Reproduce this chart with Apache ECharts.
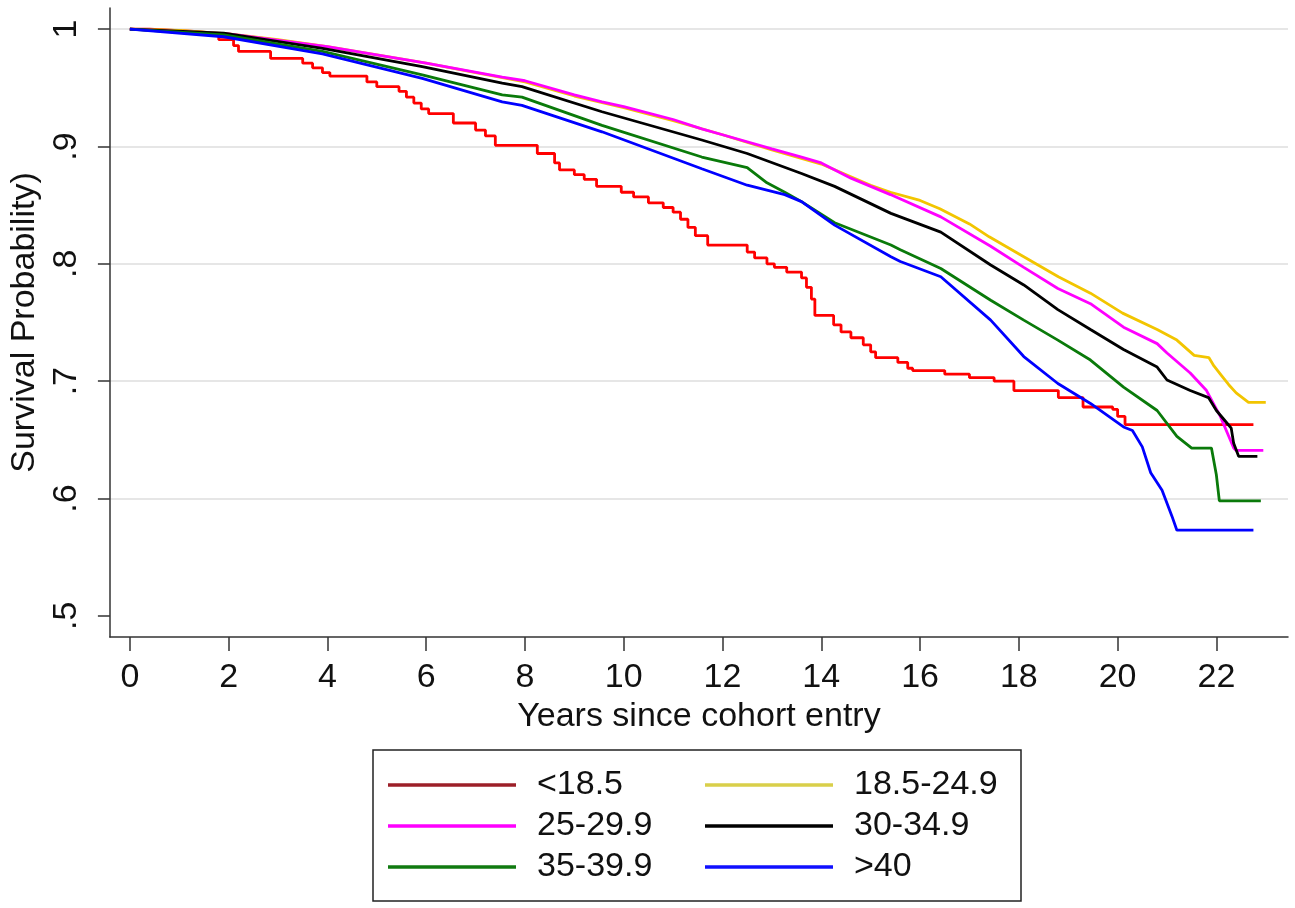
<!DOCTYPE html>
<html>
<head>
<meta charset="utf-8">
<script src="https://cdn.jsdelivr.net/npm/echarts@6/dist/echarts.min.js"></script>
<style>
html,body{margin:0;padding:0;background:#fff;}
#chart{width:1295px;height:908px;}
</style>
</head>
<body>
<div id="chart"></div>
<script>
// ---- data ----
const seriesNames = ['<18.5', '18.5-24.9', '25-29.9', '30-34.9', '35-39.9', '>40'];
const xTickValues = [0, 2, 4, 6, 8, 10, 12, 14, 16, 18, 20, 22];
const yTickValues = [0.5, 0.6, 0.7, 0.8, 0.9, 1];
const yTickLabels = ['.5', '.6', '.7', '.8', '.9', '1'];
const xTitle = 'Years since cohort entry';
const yTitle = 'Survival Probability)';

// [years, survival]
const bmiUnder185 = [[0,1],[0.4,0.999],[0.9,0.998],[1.3,0.997],[1.6,0.995],[1.8,0.991],[2.1,0.986],[2.2,0.981],[2.85,0.975],[3.5,0.971],[3.7,0.967],[3.9,0.963],[4.05,0.960],[4.8,0.955],[5.0,0.951],[5.45,0.947],[5.6,0.942],[5.75,0.937],[5.9,0.932],[6.05,0.928],[6.55,0.920],[7.0,0.914],[7.2,0.909],[7.4,0.901],[8.25,0.894],[8.6,0.886],[8.7,0.880],[9.0,0.876],[9.2,0.872],[9.45,0.866],[9.95,0.861],[10.2,0.857],[10.5,0.852],[10.8,0.848],[11.0,0.844],[11.15,0.838],[11.3,0.831],[11.45,0.824],[11.7,0.816],[12.5,0.810],[12.65,0.805],[12.9,0.800],[13.05,0.797],[13.3,0.793],[13.6,0.788],[13.7,0.780],[13.8,0.770],[13.87,0.756],[14.25,0.748],[14.4,0.742],[14.6,0.737],[14.85,0.731],[15.0,0.725],[15.1,0.720],[15.55,0.716],[15.75,0.711],[15.85,0.709],[16.5,0.706],[17.0,0.703],[17.5,0.700],[17.9,0.692],[18.8,0.686],[19.3,0.678],[19.9,0.676],[20.0,0.670],[20.15,0.663],[22.75,0.663]];
const bmi185to249 = [[0,1],[1,0.999],[2,0.996],[3,0.991],[4,0.985],[5,0.978],[6,0.971],[7,0.963],[8,0.955],[9,0.943],[10,0.933],[11,0.922],[12,0.910],[13,0.897],[14,0.885],[15,0.867],[15.4,0.861],[16,0.854],[16.4,0.847],[17,0.834],[17.4,0.823],[18.1,0.806],[18.8,0.789],[19.45,0.775],[20.1,0.758],[20.8,0.744],[21.2,0.735],[21.55,0.722],[21.85,0.720],[21.95,0.713],[22.1,0.705],[22.25,0.697],[22.4,0.690],[22.65,0.682],[23.0,0.682]];
const bmi25to299 = [[0,1],[2,0.996],[4,0.985],[6,0.971],[7.54,0.959],[8,0.956],[9,0.944],[9.56,0.938],[10,0.934],[11,0.923],[11.58,0.915],[12,0.910],[13,0.898],[13.6,0.891],[14,0.886],[14.6,0.873],[15.4,0.859],[16.42,0.840],[17.43,0.815],[18.1,0.797],[18.79,0.779],[19.45,0.766],[20.12,0.746],[20.8,0.732],[21.0,0.724],[21.47,0.707],[21.8,0.692],[22.08,0.670],[22.25,0.653],[22.35,0.643],[22.4,0.641],[22.95,0.641]];
const bmi30to349 = [[0,1],[1.9,0.9966],[3.9,0.9835],[5.92,0.968],[7.54,0.954],[7.94,0.951],[9.56,0.9296],[11.58,0.9055],[12.5,0.894],[13.6,0.877],[14.27,0.866],[15.41,0.843],[16.42,0.827],[17.43,0.799],[18.1,0.782],[18.79,0.761],[19.45,0.744],[20.12,0.727],[20.8,0.712],[21.0,0.701],[21.47,0.692],[21.84,0.686],[22.0,0.675],[22.2,0.665],[22.3,0.660],[22.35,0.647],[22.45,0.636],[22.83,0.636]];
const bmi35to399 = [[0,1],[1.9,0.995],[3.9,0.981],[5.92,0.961],[7.54,0.944],[7.94,0.942],[9.56,0.918],[11.58,0.891],[12.5,0.882],[12.9,0.869],[13.26,0.861],[13.6,0.853],[14.27,0.835],[15.41,0.816],[15.6,0.812],[16.42,0.796],[17.43,0.769],[18.1,0.752],[18.79,0.735],[19.45,0.718],[20.12,0.695],[20.8,0.675],[21.2,0.653],[21.5,0.643],[21.9,0.643],[22.0,0.620],[22.06,0.598],[22.9,0.598]];
const bmiOver40 = [[0,1],[1.9,0.9935],[3.9,0.979],[5.92,0.958],[7.54,0.938],[7.94,0.935],[9.56,0.9125],[11.58,0.881],[12.5,0.867],[13.26,0.859],[13.6,0.853],[14.27,0.833],[15.41,0.806],[15.6,0.802],[16.42,0.789],[17.43,0.752],[18.1,0.721],[18.79,0.698],[19.45,0.681],[20.12,0.661],[20.3,0.658],[20.5,0.644],[20.67,0.622],[20.9,0.607],[21.1,0.585],[21.2,0.573],[22.75,0.573]];

const seriesData = [bmiUnder185, bmi185to249, bmi25to299, bmi30to349, bmi35to399, bmiOver40];
const seriesColors = ['#ff0000', '#f2c500', '#ff00ff', '#000000', '#0a7a0a', '#0000ff'];
const legendColors = ['#9c1f28', '#d9cf4a', '#ff00ff', '#000000', '#107a10', '#1010ff'];

// ---- chart ----
const FONT = '"Liberation Sans", Arial, sans-serif';
const FS = 34;
const chart = echarts.init(document.getElementById('chart'), null, {renderer: 'canvas'});

const series = seriesNames.map((name, i) => ({
  name: name,
  type: 'line',
  data: seriesData[i],
  symbol: 'none',
  showSymbol: false,
  step: i === 0 ? 'end' : false,
  smooth: false,
  lineStyle: {color: seriesColors[i], width: 2.8},
  itemStyle: {color: seriesColors[i]},
  z: 3 + i,
  animation: false
}));

function legendItems(names) {
  return names.map(n => {
    const i = seriesNames.indexOf(n);
    return {name: n, icon: 'rect', itemStyle: {color: legendColors[i], borderWidth: 0}};
  });
}

const legendCommon = {
  orient: 'vertical',
  top: 768,
  itemWidth: 128,
  itemHeight: 3.5,
  itemGap: 7,
  padding: 0,
  selectedMode: false,
  textStyle: {fontSize: FS, fontFamily: FONT, color: '#111', lineHeight: 34, padding: [0, 0, 0, 16]}
};

const option = {
  backgroundColor: '#fff',
  animation: false,
  grid: {left: 107, right: 7, top: 8, bottom: 271, containLabel: false},
  xAxis: {
    type: 'value',
    min: -0.404,
    max: 23.45,
    name: xTitle,
    nameLocation: 'middle',
    nameGap: 55,
    nameTextStyle: {fontSize: FS, fontFamily: FONT, color: '#111'},
    axisLine: {show: true, onZero: false, lineStyle: {color: '#333', width: 1.5}},
    axisTick: {show: true, length: 14, customValues: xTickValues, lineStyle: {color: '#333', width: 1.5}},
    axisLabel: {customValues: xTickValues, margin: 24, fontSize: FS, fontFamily: FONT, color: '#111'},
    splitLine: {show: false}
  },
  yAxis: {
    type: 'value',
    min: 0.482,
    max: 1.018,
    name: yTitle,
    nameLocation: 'middle',
    nameGap: 62,
    nameRotate: 90,
    nameTextStyle: {fontSize: FS, fontFamily: FONT, color: '#111'},
    axisLine: {show: true, onZero: false, lineStyle: {color: '#333', width: 1.5}},
    axisTick: {show: true, length: 12, customValues: yTickValues, lineStyle: {color: '#333', width: 1.5}},
    axisLabel: {
      customValues: yTickValues,
      rotate: 90,
      margin: 26,
      fontSize: FS,
      fontFamily: FONT,
      color: '#111',
      formatter: v => {
        const k = yTickValues.findIndex(t => Math.abs(t - v) < 1e-6);
        return k >= 0 ? yTickLabels[k] : '';
      }
    },
    splitLine: {
      show: true,
      lineStyle: {color: ['rgba(0,0,0,0)', '#e6e6e6', '#e6e6e6', '#e6e6e6', '#e6e6e6', '#e6e6e6'], width: 2}
    }
  },
  legend: [
    Object.assign({}, legendCommon, {left: 388, data: legendItems(['<18.5', '25-29.9', '35-39.9'])}),
    Object.assign({}, legendCommon, {left: 705, data: legendItems(['18.5-24.9', '30-34.9', '>40'])})
  ],
  graphic: [{
    type: 'rect',
    shape: {x: 373, y: 750, width: 648, height: 151},
    style: {fill: 'none', stroke: '#222', lineWidth: 1.5},
    silent: true
  }],
  series: series
};

chart.setOption(option);
</script>
</body>
</html>
